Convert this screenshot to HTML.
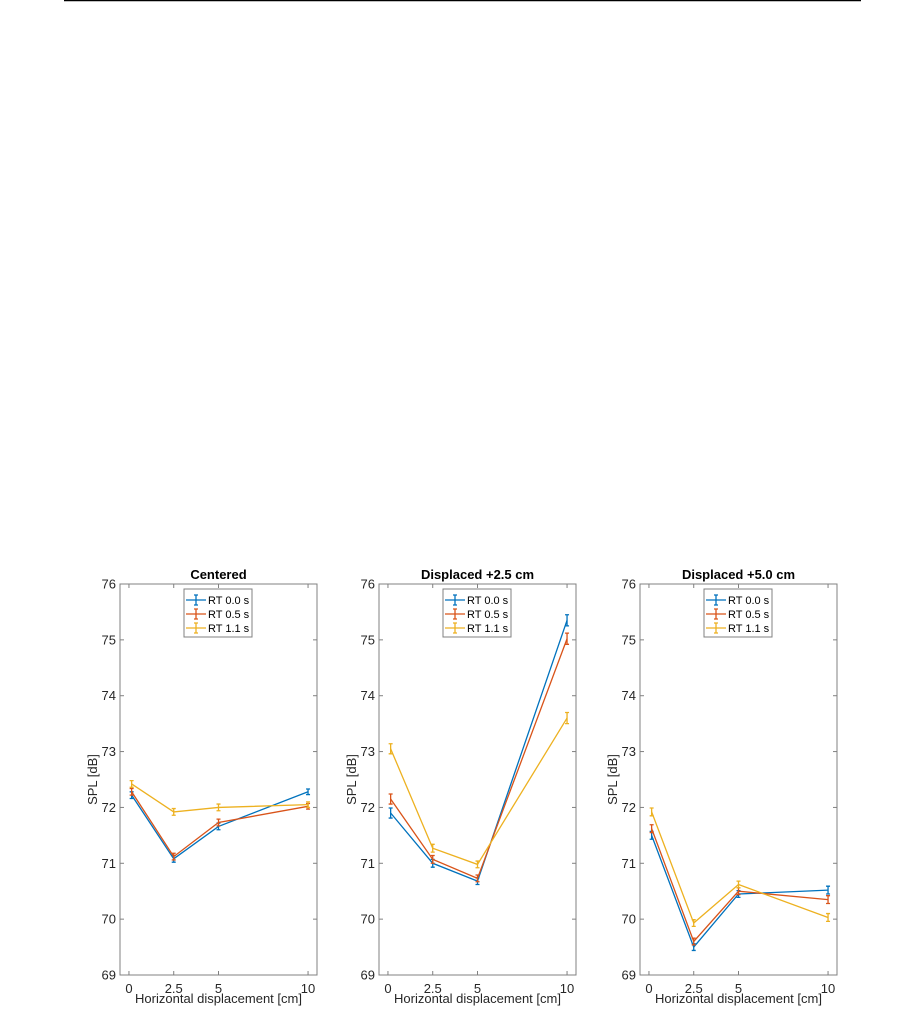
<!DOCTYPE html>
<html><head><meta charset="utf-8"><style>
body{margin:0;background:#fff;width:922px;height:1028px;overflow:hidden}
text{font-family:"Liberation Sans",Arial,sans-serif}
</style></head><body>
<svg id="fig" width="922" height="1028" xmlns="http://www.w3.org/2000/svg">
<line x1="64" y1="0.5" x2="861" y2="0.5" stroke="#000" stroke-width="1.5"/>
</svg>
<script>
const xCats=[0.15,2.5,5,10];
const xTicks=[0,2.5,5,10];
const xTickLabels=["0","2.5","5","10"];
const yTicks=[69,70,71,72,73,74,75,76];
const titles=["Centered","Displaced +2.5 cm","Displaced +5.0 cm"];
const seriesNames=["RT 0.0 s","RT 0.5 s","RT 1.1 s"];
const colors=["#0072BD","#D95319","#EDB120"];
const p1rt00=[72.22,71.08,71.66,72.28];
const p1rt05=[72.28,71.12,71.73,72.02];
const p1rt11=[72.42,71.92,72.0,72.05];
const p2rt00=[71.9,71.0,70.68,75.35];
const p2rt05=[72.15,71.07,70.73,75.02];
const p2rt11=[73.05,71.27,70.98,73.6];
const p3rt00=[71.5,69.5,70.45,70.52];
const p3rt05=[71.62,69.6,70.5,70.35];
const p3rt11=[71.92,69.93,70.62,70.03];
const p1err=[0.06,0.06,0.06,0.05];
const p2err=[0.09,0.07,0.06,0.1];
const p3err=[0.07,0.06,0.06,0.07];
const panelData=[[p1rt00,p1rt05,p1rt11],[p2rt00,p2rt05,p2rt11],[p3rt00,p3rt05,p3rt11]];
const panelErr=[p1err,p2err,p3err];
const lefts=[120,379,640];
const W=197,TOP=584,BOT=975,XMIN=-0.5,XMAX=10.5,YMIN=69,YMAX=76;
const NS="http://www.w3.org/2000/svg";
const svg=document.getElementById('fig');
function mk(t,a,p){const e=document.createElementNS(NS,t);for(const k in a)e.setAttribute(k,a[k]);(p||svg).appendChild(e);return e;}
panelData.forEach((series,pi)=>{
  const L=lefts[pi];
  const sx=v=>L+(v-XMIN)/(XMAX-XMIN)*W;
  const sy=v=>BOT-(v-YMIN)/(YMAX-YMIN)*(BOT-TOP);
  const g=mk('g',{});
  
  
  const box=mk('rect',{x:L,y:TOP,width:W,height:BOT-TOP,fill:'none',stroke:'#808080','stroke-width':1},g);
  
  
  yTicks.forEach(v=>{
    const y=sy(v);
    mk('line',{x1:L,y1:y,x2:L+4,y2:y,stroke:'#808080'},g);
    mk('line',{x1:L+W,y1:y,x2:L+W-4,y2:y,stroke:'#808080'},g);
    const t=mk('text',{x:L-4,y:y+4.5,'text-anchor':'end','font-size':13,fill:'#262626'},g);
    t.textContent=v;
    
    
  });
  xTicks.forEach((v,i)=>{
    const x=sx(v);
    mk('line',{x1:x,y1:BOT,x2:x,y2:BOT-4,stroke:'#808080'},g);
    mk('line',{x1:x,y1:TOP,x2:x,y2:TOP+4,stroke:'#808080'},g);
    const t=mk('text',{x:x,y:BOT+18,'text-anchor':'middle','font-size':13,fill:'#262626'},g);
    t.textContent=xTickLabels[i];
    
    
  });
  const xl=mk('text',{x:L+W/2,y:BOT+28,'text-anchor':'middle','font-size':13,fill:'#262626'},g);
  xl.textContent='Horizontal displacement [cm]';
  
  
  const yl=mk('text',{x:0,y:0,'text-anchor':'middle','font-size':13,fill:'#262626',transform:`translate(${L-23},${(TOP+BOT)/2}) rotate(-90)`},g);
  yl.textContent='SPL [dB]';
  
  
  const tt=mk('text',{x:L+W/2,y:TOP-5,'text-anchor':'middle','font-size':13,'font-weight':'bold',fill:'#000'},g);
  tt.textContent=titles[pi];
  
  
  series.forEach((vals,si)=>{
    const c=colors[si];
    const pl=mk('polyline',{points:vals.map((v,i)=>sx(xCats[i])+','+sy(v)).join(' '),fill:'none',stroke:c,'stroke-width':1.3},g);
    
    
    vals.forEach((v,i)=>{
      const x=sx(xCats[i]),e=panelErr[pi][i];
      const eb=mk('path',{d:`M${x},${sy(v-e)}V${sy(v+e)}M${x-2},${sy(v-e)}H${x+2}M${x-2},${sy(v+e)}H${x+2}`,stroke:c,'stroke-width':1.3,fill:'none'},g);
      
      
    });
  });
  const lx=L+64,ly=589;
  const lg=mk('g',{},g);
  
  
  mk('rect',{x:lx,y:ly,width:68,height:48,fill:'#fff',stroke:'#808080'},lg);
  seriesNames.forEach((n,si)=>{
    const y=ly+11+si*14,c=colors[si];
    mk('line',{x1:lx+2,y1:y,x2:lx+22,y2:y,stroke:c,'stroke-width':1.3},lg);
    mk('path',{d:`M${lx+12},${y-5}V${y+5}M${lx+10},${y-5}H${lx+14}M${lx+10},${y+5}H${lx+14}`,stroke:c,'stroke-width':1.3,fill:'none'},lg);
    const t=mk('text',{x:lx+24,y:y+4,'font-size':11,fill:'#000'},lg);
    t.textContent=n;
    
    
  });
});
</script>
</body></html>
